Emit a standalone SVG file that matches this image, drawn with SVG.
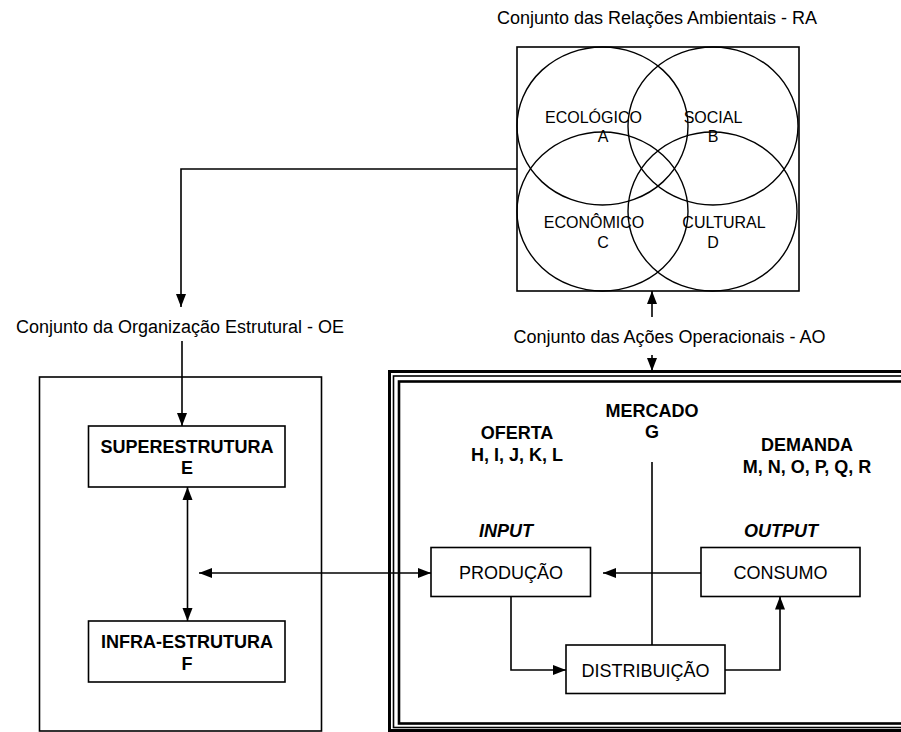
<svg xmlns="http://www.w3.org/2000/svg" width="901" height="732" viewBox="0 0 901 732">
<defs>
<style>
text{font-family:"Liberation Sans",Arial,sans-serif;fill:#000;text-anchor:middle}
.t{font-size:18px}
.b{font-size:18px;font-weight:bold}
.bi{font-size:18px;font-weight:bold;font-style:italic}
.c{font-size:16px}
.box{fill:#fff;stroke:#000;stroke-width:1.6}
.circ{fill:none;stroke:#000;stroke-width:1.4}
.ln{fill:none;stroke:#000;stroke-width:1.6}
</style>
<marker id="ah" markerUnits="userSpaceOnUse" markerWidth="13" markerHeight="13" viewBox="0 0 13 13" refX="13" refY="6.5" orient="auto-start-reverse">
<path d="M0,1.5 L13,6.5 L0,11.5 Z" fill="#000"/>
</marker>
</defs>
<rect width="901" height="732" fill="#fff"/>

<g id="ra">
<text class="t" x="657" y="24">Conjunto das Relações Ambientais - RA</text>
<rect x="517" y="47" width="282" height="244" fill="none" stroke="#000" stroke-width="1.6"/>
<ellipse class="circ" cx="602.5" cy="126" rx="85.5" ry="79"/>
<ellipse class="circ" cx="713" cy="126" rx="85" ry="79"/>
<ellipse class="circ" cx="602.5" cy="211.5" rx="85.5" ry="79.5"/>
<ellipse class="circ" cx="712.5" cy="211.5" rx="84.5" ry="79.5"/>
<text class="c" x="593.5" y="123">ECOLÓGICO</text>
<text class="c" x="603" y="142">A</text>
<text class="c" x="713" y="123">SOCIAL</text>
<text class="c" x="713" y="142">B</text>
<text class="c" x="594" y="228">ECONÔMICO</text>
<text class="c" x="603" y="248">C</text>
<text class="c" x="724" y="228">CULTURAL</text>
<text class="c" x="713" y="248">D</text>
</g>

<g id="oe">
<text class="t" x="180" y="333">Conjunto da Organização Estrutural - OE</text>
<rect x="39.5" y="377" width="282" height="354" fill="none" stroke="#000" stroke-width="1.6"/>
</g>

<g id="superestrutura">
<rect class="box" x="88.5" y="426" width="196.5" height="61"/>
<text class="b" x="187" y="453">SUPERESTRUTURA</text>
<text class="b" x="187" y="474">E</text>
</g>

<g id="infraestrutura">
<rect class="box" x="88.5" y="621" width="196.5" height="61"/>
<text class="b" x="187" y="648">INFRA-ESTRUTURA</text>
<text class="b" x="187" y="670">F</text>
</g>

<g id="ao">
<text class="t" x="669.5" y="343">Conjunto das Ações Operacionais - AO</text>
<rect x="389.5" y="371.5" width="530" height="359" fill="none" stroke="#000" stroke-width="3"/>
<rect x="393.5" y="376" width="520" height="351.5" fill="none" stroke="#000" stroke-width="1.6"/>
<rect x="399" y="381.5" width="510" height="342" fill="none" stroke="#000" stroke-width="2.6"/>
<text class="b" x="652" y="417">MERCADO</text>
<text class="b" x="652" y="438">G</text>
<text class="b" x="517" y="439">OFERTA</text>
<text class="b" x="517" y="461">H, I, J, K, L</text>
<text class="b" x="807" y="451">DEMANDA</text>
<text class="b" x="807" y="473">M, N, O, P, Q, R</text>
<text class="bi" x="506" y="537">INPUT</text>
<text class="bi" x="781" y="537">OUTPUT</text>
</g>

<g id="producao">
<rect class="box" x="431" y="547.5" width="159.5" height="49"/>
<text class="t" x="511" y="578.5">PRODUÇÃO</text>
</g>

<g id="consumo">
<rect class="box" x="701" y="547.5" width="159" height="49"/>
<text class="t" x="780.5" y="578.5">CONSUMO</text>
</g>

<g id="distribuicao">
<rect class="box" x="566" y="645" width="159" height="48.5"/>
<text class="t" x="645.5" y="677">DISTRIBUIÇÃO</text>
</g>

<g id="connectors">
<path class="ln" d="M517,169 H181 V307" marker-end="url(#ah)"/>
<path class="ln" d="M182,341 V426" marker-end="url(#ah)"/>
<path class="ln" d="M187.5,487 V621" marker-start="url(#ah)" marker-end="url(#ah)"/>
<path class="ln" d="M199,573 H431" marker-start="url(#ah)" marker-end="url(#ah)"/>
<path class="ln" d="M652,317 V291" marker-end="url(#ah)"/>
<path class="ln" d="M652,355 V371" marker-end="url(#ah)"/>
<path class="ln" d="M652,462 V645"/>
<path class="ln" d="M701,573 H603" marker-end="url(#ah)"/>
<path class="ln" d="M511,596.5 V670 H566" marker-end="url(#ah)"/>
<path class="ln" d="M725,670 H780 V596.5" marker-end="url(#ah)"/>
</g>
</svg>
